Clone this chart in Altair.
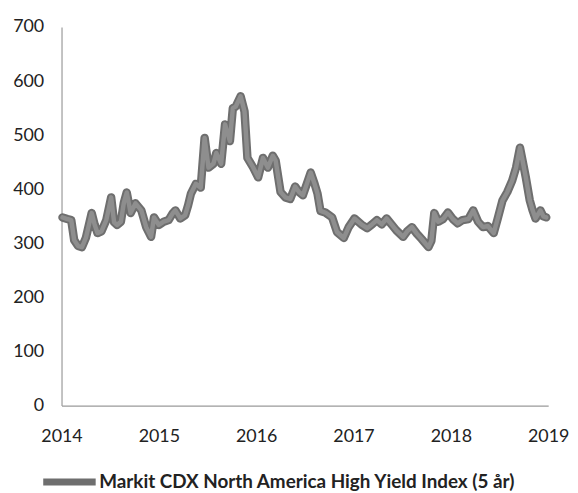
import altair as alt
import pandas as pd

series_name = "Markit CDX North America High Yield Index (5 år)"

years = [2014.01, 2014.06, 2014.10, 2014.13, 2014.17, 2014.21, 2014.25, 2014.31, 2014.34, 2014.37,
         2014.41, 2014.46, 2014.51, 2014.54, 2014.57, 2014.61, 2014.64, 2014.67, 2014.71, 2014.76,
         2014.82, 2014.87, 2014.92, 2014.95, 2015.00, 2015.05, 2015.10, 2015.14, 2015.17, 2015.22,
         2015.27, 2015.30, 2015.33, 2015.38, 2015.43, 2015.47, 2015.51, 2015.56, 2015.59, 2015.64,
         2015.68, 2015.73, 2015.76, 2015.79, 2015.84, 2015.88, 2015.91, 2015.97, 2016.02, 2016.07,
         2016.12, 2016.17, 2016.20, 2016.25, 2016.30, 2016.35, 2016.40, 2016.44, 2016.48, 2016.52,
         2016.56, 2016.60, 2016.63, 2016.66, 2016.71, 2016.78, 2016.83, 2016.90, 2016.95, 2017.01,
         2017.08, 2017.14, 2017.19, 2017.24, 2017.29, 2017.34, 2017.39, 2017.44, 2017.51, 2017.55,
         2017.60, 2017.65, 2017.70, 2017.77, 2017.80, 2017.83, 2017.87, 2017.92, 2017.97, 2018.02,
         2018.07, 2018.12, 2018.18, 2018.23, 2018.28, 2018.33, 2018.38, 2018.44, 2018.48, 2018.53,
         2018.58, 2018.63, 2018.67, 2018.71, 2018.74, 2018.77, 2018.81, 2018.84, 2018.87, 2018.92,
         2018.95, 2018.98]

values = [348, 345, 343, 306, 295, 293, 310, 356, 335, 319,
          322, 343, 385, 339, 334, 340, 375, 394, 356, 374,
          361, 330, 312, 348, 334, 340, 343, 355, 361, 346,
          352, 370, 392, 410, 403, 495, 440, 447, 467, 447,
          520, 489, 550, 553, 572, 544, 458, 440, 422, 458,
          440, 462, 453, 395, 385, 382, 405, 395, 389, 410,
          431, 410, 392, 360, 357, 348, 321, 310, 330, 346,
          335, 328, 335, 343, 335, 346, 335, 324, 312, 322,
          330, 318, 308, 293, 305, 356, 340, 345, 357, 345,
          337, 343, 345, 361, 340, 330, 332, 319, 345, 379,
          395, 416, 440, 477, 450, 422, 380, 361, 346, 361,
          350, 348]

y_ticks = [0, 100, 200, 300, 400, 500, 600, 700]
x_ticks = [2014, 2015, 2016, 2017, 2018, 2019]

df = pd.DataFrame({"year": years, "value": values, "series": series_name})

x = alt.X("year:Q",
          scale=alt.Scale(domain=[2014, 2019], nice=False, zero=False),
          axis=alt.Axis(values=x_ticks, format="d", title=None, grid=False, ticks=False,
                        labelPadding=22, labelFontSize=18, labelColor="#222222",
                        domainColor="#9a9a9a", domainWidth=1.2, labelFlush=False))
y = alt.Y("value:Q",
          scale=alt.Scale(domain=[0, 700], nice=False),
          axis=alt.Axis(values=y_ticks, title=None, grid=False, ticks=False,
                        labelPadding=18, labelFontSize=18, labelColor="#222222",
                        domainColor="#9a9a9a", domainWidth=1.2))

outline = alt.Chart(df).mark_line(strokeWidth=8.5, color="#454545", strokeJoin="round", strokeCap="round").encode(
    x=x, y=y,
    color=alt.Color("series:N",
                    scale=alt.Scale(range=["#6e6e6e"]),
                    legend=alt.Legend(title=None, orient="none", legendX=-22, legendY=429,
                                      symbolType="stroke", symbolSize=2800, symbolStrokeWidth=7,
                                      labelFontSize=19, labelFontWeight="bold", labelColor="#222222",
                                      labelLimit=600, symbolOffset=0, labelOffset=0)),
)
inner = alt.Chart(df).mark_line(strokeWidth=4.5, color="#8e8e8e", strokeJoin="round", strokeCap="round").encode(
    x=x, y=y, detail="series:N"
)

chart = alt.layer(outline, inner).properties(
    width=491, height=382,
    autosize=alt.AutoSizeParams(type="none"),
    padding={"left": 54, "top": 17, "right": 22, "bottom": 88},
).configure(font="Lato").configure_view(stroke=None)

chart.save("out.html", embed_options={"renderer": "svg", "actions": False})
